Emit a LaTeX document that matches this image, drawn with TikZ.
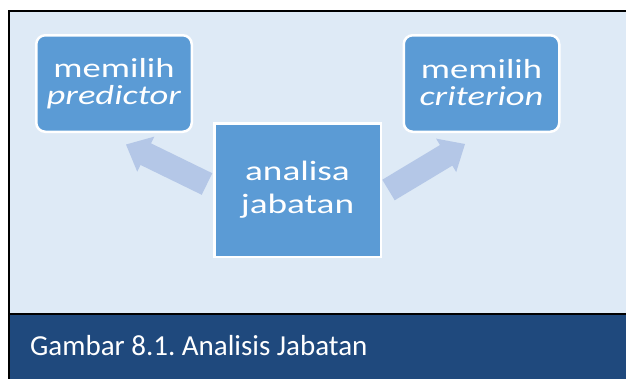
\documentclass[tikz,border=0pt]{standalone}
\usepackage{fontspec}
\setmainfont{Carlito}
\newfontfamily\boxfont[FakeStretch=1.33]{Carlito}
\usetikzlibrary{calc}
\frenchspacing

\definecolor{panelbg}{HTML}{DEEAF6}
\definecolor{bandbg}{HTML}{1F497D}
\definecolor{boxfill}{HTML}{5B9BD5}
\definecolor{arrowfill}{HTML}{B4C7E7}

% Block arrow from tail centre #1 to tip #2
\newcommand\blockarrow[2]{%
  \coordinate (ba-h) at ($(#2)!22pt!(#1)$);
  \fill[arrowfill]
    ($(#1)!12pt!90:(#2)$) -- ($(ba-h)!12pt!-90:(#1)$) -- ($(ba-h)!19.5pt!-90:(#1)$)
    -- (#2)
    -- ($(ba-h)!19.5pt!90:(#1)$) -- ($(ba-h)!12pt!90:(#1)$) -- ($(#1)!12pt!-90:(#2)$)
    -- cycle;}

\begin{document}
\begin{tikzpicture}[x=1pt,y=-1pt,
  stepbox/.style={fill=boxfill, draw=white, line width=2.5pt, text=white,
    align=center, inner sep=0pt},
  sidebox/.style={stepbox, rounded corners=9pt, minimum width=155.5pt,
    minimum height=96.5pt, font=\boxfont\fontsize{27.5}{27.5}\selectfont},
  mainbox/.style={stepbox, minimum width=166.5pt, minimum height=133.5pt,
    font=\boxfont\fontsize{28}{33}\selectfont},
  caption/.style={text=white, font=\fontsize{29}{34}\selectfont, inner sep=0pt}]

  \useasboundingbox (0,0) rectangle (626,378);

  % frame: light panel and dark caption band
  \fill[panelbg] (8.75,10.75) rectangle (640,314);
  \fill[bandbg] (8.75,314) rectangle (640,390);
  \draw[black, line width=1.5pt] (8.75,390) -- (8.75,10.75) -- (640,10.75);
  \draw[black, line width=1.5pt] (8.75,314) -- (640,314);

  % block arrows (drawn below the boxes)
  \coordinate (la-tail) at (207,184);
  \coordinate (la-tip) at (126,144.5);
  \coordinate (ra-tail) at (388.5,190);
  \coordinate (ra-tip) at (465,144);
  \blockarrow{la-tail}{la-tip}
  \blockarrow{ra-tail}{ra-tip}

  % boxes
  \node[sidebox] (pred) at (114,83.5) {memilih\\\textit{predictor}\rule[-2pt]{0pt}{1pt}};
  \node[sidebox] (crit) at (481.5,83.5) {memilih\\\textit{criterion}\rule[-2pt]{0pt}{1pt}};
  \node[mainbox] (job) at (297.5,190) {analisa\\jabatan};

  % caption
  \node[caption, anchor=base west] (cap) at (30,355) {Gambar 8.1. Analisis Jabatan};
\end{tikzpicture}
\end{document}
